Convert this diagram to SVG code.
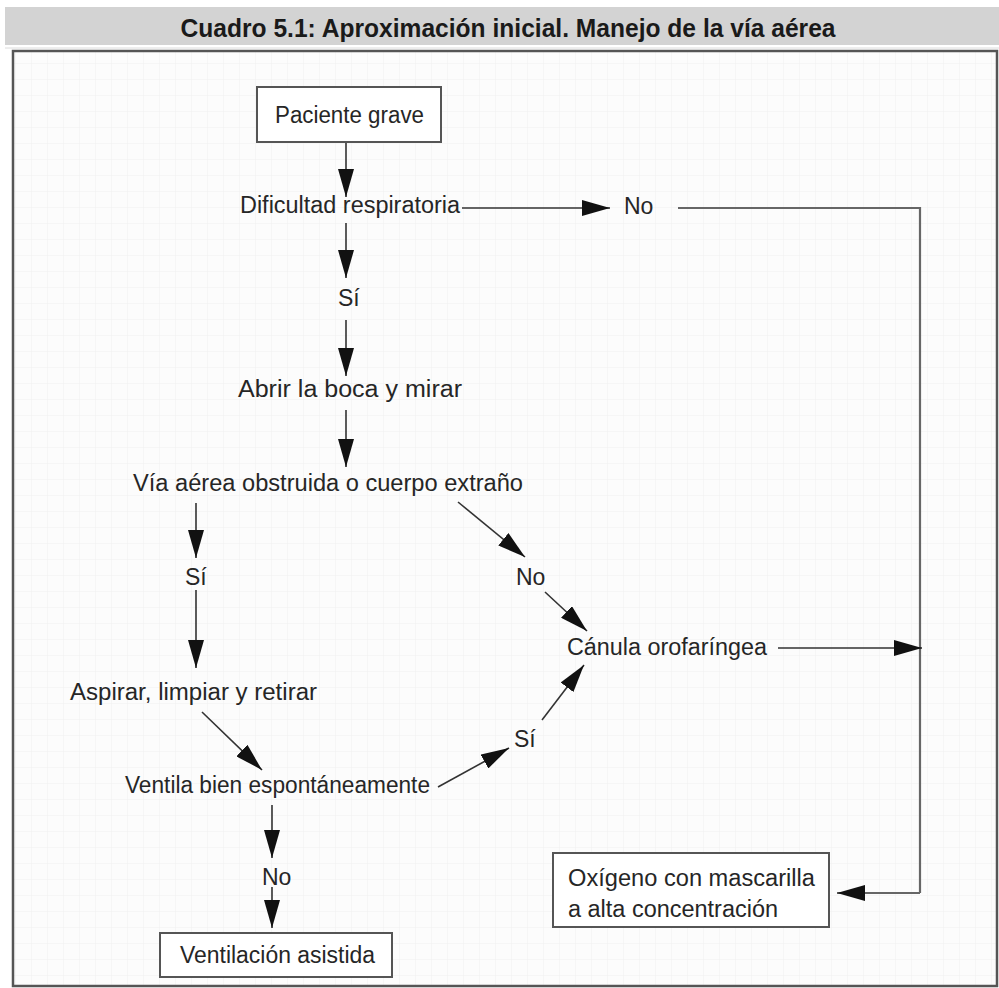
<svg xmlns="http://www.w3.org/2000/svg" width="999" height="988" viewBox="0 0 999 988">
<style>
.t{font-family:"Liberation Sans",Arial,sans-serif;font-size:23px;fill:#262626;}
.h{font-family:"Liberation Sans",Arial,sans-serif;font-size:26px;font-weight:bold;fill:#1a1a1a;}
.box{fill:#ffffff;stroke:#555;stroke-width:2;}
.c{fill:none;stroke:#333;stroke-width:1.6;}
.cg{fill:none;stroke:#666;stroke-width:2.2;}
</style>
<defs>
<marker id="ah" markerUnits="userSpaceOnUse" markerWidth="28" markerHeight="16" refX="28" refY="8" orient="auto">
<path d="M0,0 L28,8 L0,16 Z" fill="#111"/>
</marker>
<pattern id="grid" width="16" height="16" patternUnits="userSpaceOnUse">
<rect width="16" height="16" fill="#fcfcfc"/>
<path d="M16,0 L16,16 M0,16 L16,16" fill="none" stroke="#f0f0f0" stroke-width="1"/>
</pattern>
</defs>
<rect x="0" y="0" width="999" height="988" fill="#ffffff"/>
<g id="header">
<rect x="5" y="7" width="994" height="38" fill="#d3d3d3"/>
<line x1="5" y1="48" x2="999" y2="48" stroke="#dcdcdc" stroke-width="1"/>
<text class="h" x="508" y="37" text-anchor="middle" textLength="655" lengthAdjust="spacingAndGlyphs">Cuadro 5.1: Aproximación inicial. Manejo de la vía aérea</text>
</g>
<rect x="13" y="51" width="984" height="935" fill="url(#grid)" stroke="#555" stroke-width="2.5"/>
<g id="connectors">
<line class="c" x1="346" y1="142" x2="346" y2="197" marker-end="url(#ah)"/>
<line class="c" x1="462" y1="208" x2="610" y2="208" marker-end="url(#ah)"/>
<polyline class="cg" points="678,208 920,208 920,893"/>
<line class="cg" x1="920" y1="893" x2="837" y2="893" marker-end="url(#ah)"/>
<line class="c" x1="778" y1="648" x2="922" y2="648" marker-end="url(#ah)"/>
<line class="c" x1="346" y1="223" x2="346" y2="278" marker-end="url(#ah)"/>
<line class="c" x1="346" y1="320" x2="346" y2="376" marker-end="url(#ah)"/>
<line class="c" x1="346" y1="410" x2="346" y2="467" marker-end="url(#ah)"/>
<line class="c" x1="196" y1="503" x2="196" y2="558" marker-end="url(#ah)"/>
<line class="c" x1="196" y1="590" x2="196" y2="668" marker-end="url(#ah)"/>
<line class="c" x1="458" y1="502" x2="525" y2="557" marker-end="url(#ah)"/>
<line class="c" x1="545" y1="592" x2="587" y2="631" marker-end="url(#ah)"/>
<line class="c" x1="202" y1="712" x2="262" y2="770" marker-end="url(#ah)"/>
<line class="c" x1="438" y1="787" x2="509" y2="748" marker-end="url(#ah)"/>
<line class="c" x1="542" y1="720" x2="584" y2="665" marker-end="url(#ah)"/>
<line class="c" x1="272" y1="805" x2="272" y2="858" marker-end="url(#ah)"/>
<line class="c" x1="272" y1="887" x2="272" y2="928" marker-end="url(#ah)"/>
</g>
<g id="paciente">
<rect class="box" x="257" y="87" width="184" height="55"/>
<text class="t" x="275" y="123" textLength="149" lengthAdjust="spacingAndGlyphs">Paciente grave</text>
</g>
<g id="dificultad">
<text class="t" x="240" y="213" textLength="220" lengthAdjust="spacingAndGlyphs">Dificultad respiratoria</text>
</g>
<g id="no1">
<text class="t" x="624" y="214">No</text>
</g>
<g id="si1">
<text class="t" x="338" y="306">Sí</text>
</g>
<g id="abrir">
<text class="t" x="238" y="397" textLength="224" lengthAdjust="spacingAndGlyphs">Abrir la boca y mirar</text>
</g>
<g id="via">
<text class="t" x="133" y="491" textLength="390" lengthAdjust="spacingAndGlyphs">Vía aérea obstruida o cuerpo extraño</text>
</g>
<g id="si2">
<text class="t" x="185" y="585">Sí</text>
</g>
<g id="no2">
<text class="t" x="516" y="585">No</text>
</g>
<g id="aspirar">
<text class="t" x="70" y="700" textLength="247" lengthAdjust="spacingAndGlyphs">Aspirar, limpiar y retirar</text>
</g>
<g id="canula">
<text class="t" x="567" y="655" textLength="200" lengthAdjust="spacingAndGlyphs">Cánula orofaríngea</text>
</g>
<g id="ventila">
<text class="t" x="125" y="793" textLength="305" lengthAdjust="spacingAndGlyphs">Ventila bien espontáneamente</text>
</g>
<g id="si3">
<text class="t" x="514" y="747">Sí</text>
</g>
<g id="no3">
<text class="t" x="262" y="885">No</text>
</g>
<g id="ventilacion">
<rect class="box" x="160" y="933" width="232" height="44"/>
<text class="t" x="180" y="963" textLength="195" lengthAdjust="spacingAndGlyphs">Ventilación asistida</text>
</g>
<g id="oxigeno">
<rect class="box" x="553" y="853" width="276" height="74"/>
<text class="t" x="568" y="886" textLength="247" lengthAdjust="spacingAndGlyphs">Oxígeno con mascarilla</text>
<text class="t" x="568" y="917" textLength="210" lengthAdjust="spacingAndGlyphs">a alta concentración</text>
</g>
</svg>
